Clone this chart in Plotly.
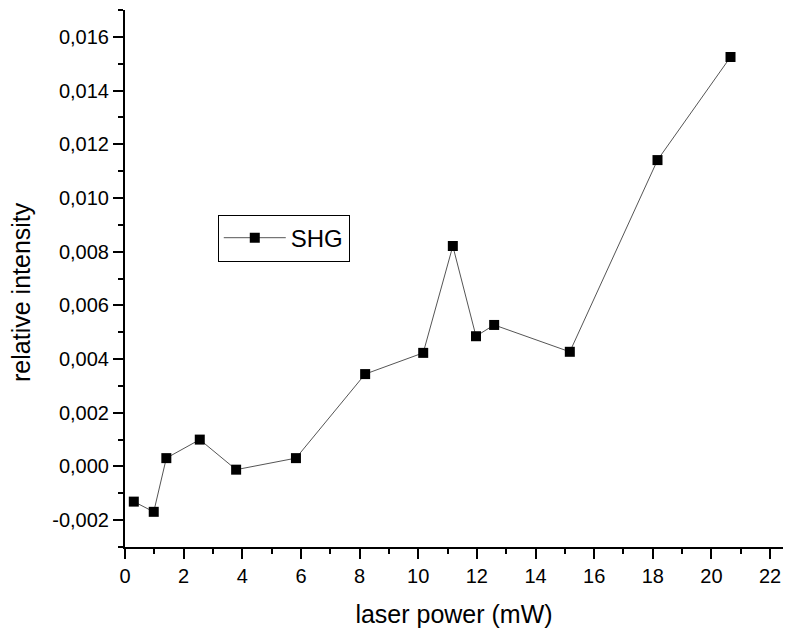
import plotly.graph_objects as go

# SHG signal versus laser power
laser_power_mw = [0.30, 0.98, 1.41, 2.55, 3.79, 5.83, 8.19, 10.17, 11.18, 11.97, 12.59, 15.17, 18.16, 20.65]
relative_intensity = [-0.00131, -0.00169, 0.00031, 0.00100, -0.00012, 0.00031, 0.00344,
                      0.00423, 0.00821, 0.00485, 0.00527, 0.00427, 0.01141, 0.01525]

x_ticks = list(range(0, 23, 2))
y_ticks = [-0.002, 0.000, 0.002, 0.004, 0.006, 0.008, 0.010, 0.012, 0.014, 0.016]
y_tick_labels = ["-0,002", "0,000", "0,002", "0,004", "0,006", "0,008",
                 "0,010", "0,012", "0,014", "0,016"]

FONT = "Liberation Sans, Arial, sans-serif"

fig = go.Figure()
fig.add_trace(go.Scatter(
    x=laser_power_mw,
    y=relative_intensity,
    mode="lines+markers",
    name="SHG",
    line=dict(color="#555555", width=1),
    marker=dict(symbol="square", size=10, color="black"),
))

axis_common = dict(
    showline=True,
    linecolor="black",
    linewidth=2,
    ticks="outside",
    tickcolor="black",
    tickwidth=2,
    ticklen=10,
    showgrid=False,
    zeroline=False,
    tickfont=dict(family=FONT, size=20, color="black"),
    mirror=False,
)

fig.update_xaxes(
    **axis_common,
    range=[0, 22.44],
    tickvals=x_ticks,
    ticktext=[str(v) for v in x_ticks],
    minor=dict(dtick=1, tick0=0, ticks="outside", ticklen=5, tickwidth=2, tickcolor="black"),
    title=dict(text="laser power (mW)", font=dict(family=FONT, size=25, color="black"), standoff=19),
)
fig.update_yaxes(
    **axis_common,
    range=[-0.003, 0.017],
    tickvals=y_ticks,
    ticktext=y_tick_labels,
    minor=dict(dtick=0.001, tick0=0, ticks="outside", ticklen=5, tickwidth=2, tickcolor="black"),
)

# y-axis title placed as a rotated annotation
fig.add_annotation(
    text="relative intensity",
    xref="paper", yref="paper",
    x=-0.158, y=0.475,
    xanchor="center", yanchor="middle",
    textangle=-90,
    showarrow=False,
    font=dict(family=FONT, size=25, color="black"),
)

fig.update_layout(
    width=786,
    height=633,
    margin=dict(l=125, r=3, t=10, b=86),
    plot_bgcolor="white",
    paper_bgcolor="white",
    showlegend=True,
    legend=dict(
        x=0.141,
        y=0.619,
        xanchor="left",
        yanchor="top",
        bordercolor="black",
        borderwidth=1,
        bgcolor="white",
        font=dict(family=FONT, size=24, color="black"),
        itemwidth=62,
    ),
)

fig.write_html("out.html")
